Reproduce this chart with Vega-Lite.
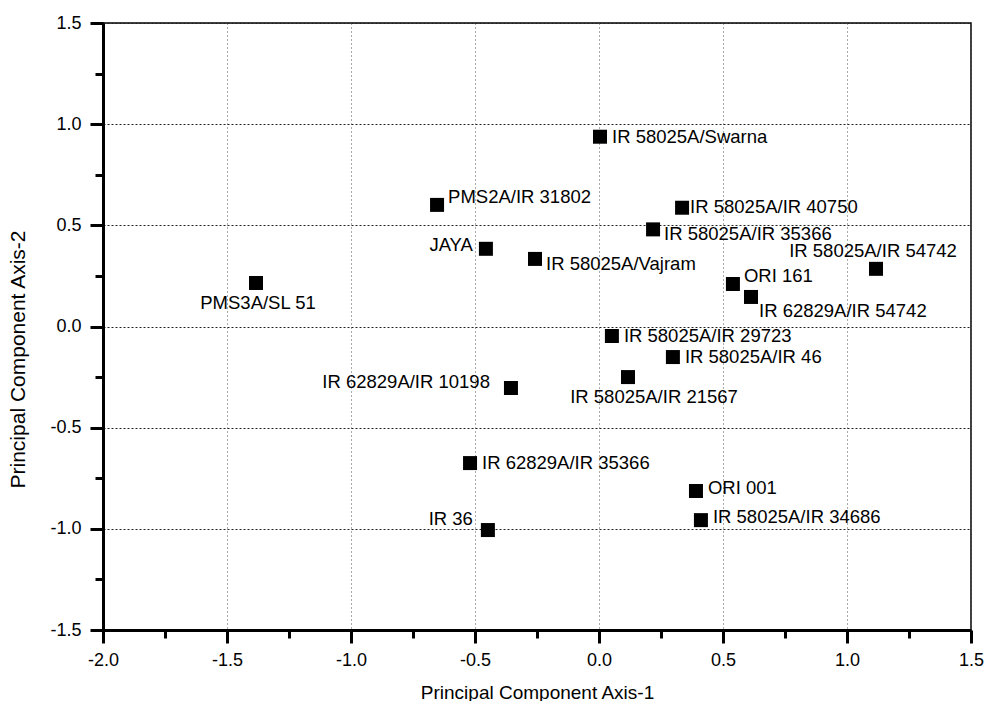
{
  "$schema": "https://vega.github.io/schema/vega-lite/v6.json",
  "width": 868,
  "height": 607,
  "autosize": "none",
  "padding": {"left": 103, "top": 23, "right": 15, "bottom": 71},
  "background": "white",
  "config": {
    "font": "Liberation Sans",
    "view": {"stroke": "black", "strokeWidth": 1.5},
    "axis": {
      "labelFont": "Liberation Sans",
      "titleFont": "Liberation Sans",
      "labelColor": "black",
      "titleColor": "black",
      "titleFontWeight": "normal",
      "domainColor": "black",
      "tickColor": "black"
    }
  },
  "data": {
    "values": [
      {"name": "PMS3A/SL 51", "pc1": -1.383, "pc2": 0.215},
      {"name": "PMS2A/IR 31802", "pc1": -0.653, "pc2": 0.601},
      {"name": "JAYA", "pc1": -0.456, "pc2": 0.384},
      {"name": "IR 58025A/Vajram", "pc1": -0.258, "pc2": 0.334},
      {"name": "IR 58025A/Swarna", "pc1": 0.004, "pc2": 0.938},
      {"name": "IR 58025A/IR 40750", "pc1": 0.335, "pc2": 0.587},
      {"name": "IR 58025A/IR 35366", "pc1": 0.218, "pc2": 0.48},
      {"name": "IR 58025A/IR 54742", "pc1": 1.117, "pc2": 0.285},
      {"name": "ORI 161", "pc1": 0.54, "pc2": 0.21},
      {"name": "IR 62829A/IR 54742", "pc1": 0.613, "pc2": 0.146},
      {"name": "IR 58025A/IR 29723", "pc1": 0.052, "pc2": -0.047},
      {"name": "IR 58025A/IR 46", "pc1": 0.298, "pc2": -0.151},
      {"name": "IR 62829A/IR 10198", "pc1": -0.355, "pc2": -0.304},
      {"name": "IR 58025A/IR 21567", "pc1": 0.117, "pc2": -0.25},
      {"name": "IR 62829A/IR 35366", "pc1": -0.52, "pc2": -0.675},
      {"name": "IR 36", "pc1": -0.448, "pc2": -1.006},
      {"name": "ORI 001", "pc1": 0.391, "pc2": -0.813},
      {"name": "IR 58025A/IR 34686", "pc1": 0.411, "pc2": -0.957}
    ]
  },
  "layer": [
    {
      "mark": {"type": "point", "shape": "square", "filled": true, "size": 196, "color": "black", "opacity": 1},
      "encoding": {
        "x": {
          "field": "pc1", "type": "quantitative",
          "scale": {"domain": [-2, 1.5], "nice": false, "zero": false},
          "axis": {
            "orient": "bottom",
            "title": "Principal Component Axis-1",
            "values": [-2, -1.5, -1, -0.5, 0, 0.5, 1, 1.5],
            "labelExpr": "replace(format(datum.value, '.1f'), '\u2212', '-')",
            "labelFontSize": 18,
            "labelPadding": 8,
            "labelFlush": false,
            "labelOverlap": false,
            "tickSize": 13,
            "tickWidth": 3,
            "domainWidth": 3,
            "grid": true,
            "gridColor": "#555",
            "gridDash": [1, 3],
            "gridWidth": 1,
            "titleFontSize": 19,
            "titleX": 434,
            "titleY": 68,
            "titleBaseline": "alphabetic"
          }
        },
        "y": {
          "field": "pc2", "type": "quantitative",
          "scale": {"domain": [-1.5, 1.5], "nice": false, "zero": false},
          "axis": {
            "orient": "left",
            "title": "Principal Component Axis-2",
            "values": [-1.5, -1, -0.5, 0, 0.5, 1, 1.5],
            "labelExpr": "replace(format(datum.value, '.1f'), '\u2212', '-')",
            "labelFontSize": 18,
            "labelPadding": 9,
            "labelFlush": false,
            "labelOverlap": false,
            "tickSize": 13,
            "tickWidth": 3,
            "domainWidth": 3,
            "grid": true,
            "gridColor": "#222",
            "gridDash": [2, 2],
            "gridWidth": 1,
            "titleFontSize": 21,
            "titleX": -85,
            "titleY": 336,
            "titleAlign": "center",
            "titleBaseline": "middle"
          }
        }
      }
    },
    {
      "mark": {"type": "point", "opacity": 0},
      "encoding": {
        "x": {
          "field": "pc1", "type": "quantitative",
          "scale": {"domain": [-2, 1.5], "nice": false, "zero": false},
          "axis": {"orient": "bottom", "title": null, "labels": false, "domain": false, "grid": false,
                   "values": [-1.75, -1.25, -0.75, -0.25, 0.25, 0.75, 1.25], "tickSize": 8, "tickWidth": 3}
        },
        "y": {
          "field": "pc2", "type": "quantitative",
          "scale": {"domain": [-1.5, 1.5], "nice": false, "zero": false},
          "axis": {"orient": "left", "title": null, "labels": false, "domain": false, "grid": false,
                   "values": [-1.25, -0.75, -0.25, 0.25, 0.75, 1.25], "tickSize": 8, "tickWidth": 3}
        }
      }
    },
    {
      "transform": [{"filter": {"field": "name", "oneOf": ["IR 58025A/Swarna", "IR 58025A/IR 29723", "IR 58025A/IR 46", "IR 62829A/IR 35366"]}}],
      "mark": {"type": "text", "align": "left", "baseline": "middle", "dx": 12, "dy": 0, "fontSize": 18.5, "color": "black"},
      "encoding": {
        "x": {"field": "pc1", "type": "quantitative", "scale": {"domain": [-2, 1.5], "nice": false, "zero": false}, "axis": null},
        "y": {"field": "pc2", "type": "quantitative", "scale": {"domain": [-1.5, 1.5], "nice": false, "zero": false}, "axis": null},
        "text": {"field": "name"}
      }
    },
    {
      "transform": [{"filter": {"field": "name", "oneOf": ["ORI 001", "IR 58025A/IR 34686"]}}],
      "mark": {"type": "text", "align": "left", "baseline": "middle", "dx": 12, "dy": -3, "fontSize": 18.5, "color": "black"},
      "encoding": {
        "x": {"field": "pc1", "type": "quantitative", "scale": {"domain": [-2, 1.5], "nice": false, "zero": false}, "axis": null},
        "y": {"field": "pc2", "type": "quantitative", "scale": {"domain": [-1.5, 1.5], "nice": false, "zero": false}, "axis": null},
        "text": {"field": "name"}
      }
    },
    {
      "transform": [{"filter": {"field": "name", "oneOf": ["IR 58025A/IR 35366", "IR 58025A/Vajram"]}}],
      "mark": {"type": "text", "align": "left", "baseline": "middle", "dx": 11, "dy": 5, "fontSize": 18.5, "color": "black"},
      "encoding": {
        "x": {"field": "pc1", "type": "quantitative", "scale": {"domain": [-2, 1.5], "nice": false, "zero": false}, "axis": null},
        "y": {"field": "pc2", "type": "quantitative", "scale": {"domain": [-1.5, 1.5], "nice": false, "zero": false}, "axis": null},
        "text": {"field": "name"}
      }
    },
    {
      "transform": [{"filter": {"field": "name", "oneOf": ["PMS2A/IR 31802", "ORI 161"]}}],
      "mark": {"type": "text", "align": "left", "baseline": "middle", "dx": 11, "dy": -8, "fontSize": 18.5, "color": "black"},
      "encoding": {
        "x": {"field": "pc1", "type": "quantitative", "scale": {"domain": [-2, 1.5], "nice": false, "zero": false}, "axis": null},
        "y": {"field": "pc2", "type": "quantitative", "scale": {"domain": [-1.5, 1.5], "nice": false, "zero": false}, "axis": null},
        "text": {"field": "name"}
      }
    },
    {
      "transform": [{"filter": {"field": "name", "oneOf": ["IR 58025A/IR 40750"]}}],
      "mark": {"type": "text", "align": "left", "baseline": "middle", "dx": 8, "dy": -1, "fontSize": 18.5, "color": "black"},
      "encoding": {
        "x": {"field": "pc1", "type": "quantitative", "scale": {"domain": [-2, 1.5], "nice": false, "zero": false}, "axis": null},
        "y": {"field": "pc2", "type": "quantitative", "scale": {"domain": [-1.5, 1.5], "nice": false, "zero": false}, "axis": null},
        "text": {"field": "name"}
      }
    },
    {
      "transform": [{"filter": {"field": "name", "oneOf": ["IR 62829A/IR 54742"]}}],
      "mark": {"type": "text", "align": "left", "baseline": "middle", "dx": 8, "dy": 14, "fontSize": 18.5, "color": "black"},
      "encoding": {
        "x": {"field": "pc1", "type": "quantitative", "scale": {"domain": [-2, 1.5], "nice": false, "zero": false}, "axis": null},
        "y": {"field": "pc2", "type": "quantitative", "scale": {"domain": [-1.5, 1.5], "nice": false, "zero": false}, "axis": null},
        "text": {"field": "name"}
      }
    },
    {
      "transform": [{"filter": {"field": "name", "oneOf": ["JAYA"]}}],
      "mark": {"type": "text", "align": "right", "baseline": "middle", "dx": -13, "dy": -4, "fontSize": 18.5, "color": "black"},
      "encoding": {
        "x": {"field": "pc1", "type": "quantitative", "scale": {"domain": [-2, 1.5], "nice": false, "zero": false}, "axis": null},
        "y": {"field": "pc2", "type": "quantitative", "scale": {"domain": [-1.5, 1.5], "nice": false, "zero": false}, "axis": null},
        "text": {"field": "name"}
      }
    },
    {
      "transform": [{"filter": {"field": "name", "oneOf": ["IR 62829A/IR 10198"]}}],
      "mark": {"type": "text", "align": "right", "baseline": "middle", "dx": -21, "dy": -6, "fontSize": 18.5, "color": "black"},
      "encoding": {
        "x": {"field": "pc1", "type": "quantitative", "scale": {"domain": [-2, 1.5], "nice": false, "zero": false}, "axis": null},
        "y": {"field": "pc2", "type": "quantitative", "scale": {"domain": [-1.5, 1.5], "nice": false, "zero": false}, "axis": null},
        "text": {"field": "name"}
      }
    },
    {
      "transform": [{"filter": {"field": "name", "oneOf": ["IR 36"]}}],
      "mark": {"type": "text", "align": "right", "baseline": "middle", "dx": -15, "dy": -11, "fontSize": 18.5, "color": "black"},
      "encoding": {
        "x": {"field": "pc1", "type": "quantitative", "scale": {"domain": [-2, 1.5], "nice": false, "zero": false}, "axis": null},
        "y": {"field": "pc2", "type": "quantitative", "scale": {"domain": [-1.5, 1.5], "nice": false, "zero": false}, "axis": null},
        "text": {"field": "name"}
      }
    },
    {
      "transform": [{"filter": {"field": "name", "oneOf": ["IR 58025A/IR 54742"]}}],
      "mark": {"type": "text", "align": "center", "baseline": "middle", "dx": -3, "dy": -18, "fontSize": 18.5, "color": "black"},
      "encoding": {
        "x": {"field": "pc1", "type": "quantitative", "scale": {"domain": [-2, 1.5], "nice": false, "zero": false}, "axis": null},
        "y": {"field": "pc2", "type": "quantitative", "scale": {"domain": [-1.5, 1.5], "nice": false, "zero": false}, "axis": null},
        "text": {"field": "name"}
      }
    },
    {
      "transform": [{"filter": {"field": "name", "oneOf": ["IR 58025A/IR 21567"]}}],
      "mark": {"type": "text", "align": "center", "baseline": "middle", "dx": 26, "dy": 20, "fontSize": 18.5, "color": "black"},
      "encoding": {
        "x": {"field": "pc1", "type": "quantitative", "scale": {"domain": [-2, 1.5], "nice": false, "zero": false}, "axis": null},
        "y": {"field": "pc2", "type": "quantitative", "scale": {"domain": [-1.5, 1.5], "nice": false, "zero": false}, "axis": null},
        "text": {"field": "name"}
      }
    },
    {
      "transform": [{"filter": {"field": "name", "oneOf": ["PMS3A/SL 51"]}}],
      "mark": {"type": "text", "align": "center", "baseline": "middle", "dx": 2, "dy": 20, "fontSize": 18.5, "color": "black"},
      "encoding": {
        "x": {"field": "pc1", "type": "quantitative", "scale": {"domain": [-2, 1.5], "nice": false, "zero": false}, "axis": null},
        "y": {"field": "pc2", "type": "quantitative", "scale": {"domain": [-1.5, 1.5], "nice": false, "zero": false}, "axis": null},
        "text": {"field": "name"}
      }
    }
  ],
  "resolve": {"axis": {"x": "independent", "y": "independent"}}
}
